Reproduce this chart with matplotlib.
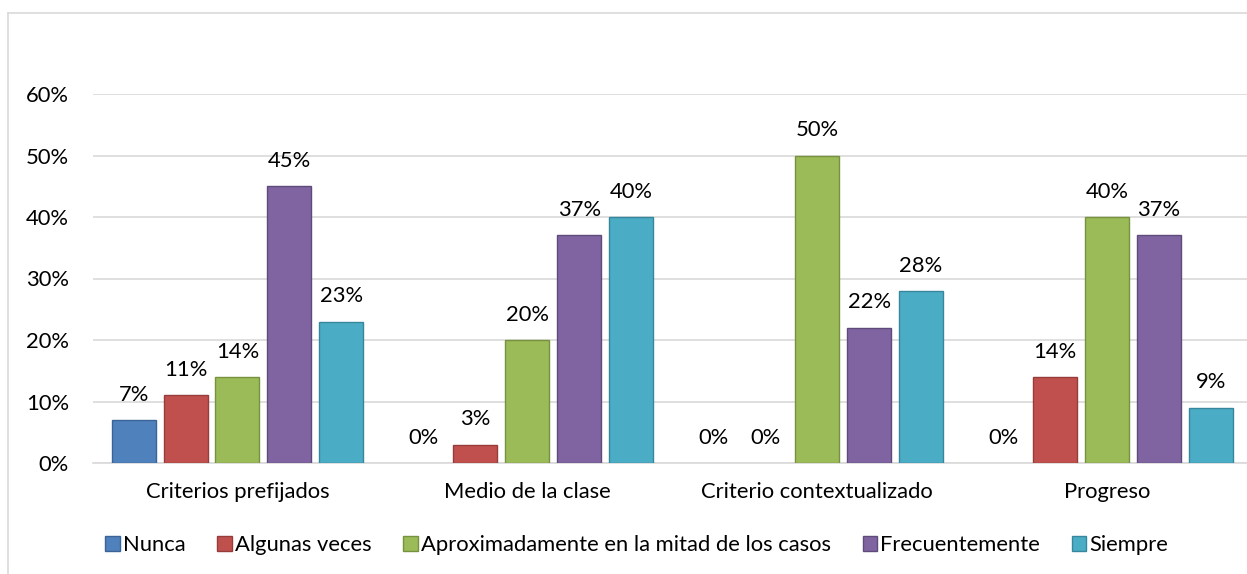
import matplotlib
matplotlib.use("Agg")
import matplotlib.pyplot as plt
import numpy as np
from matplotlib.lines import Line2D
from matplotlib.patches import Rectangle

categories = ["Criterios prefijados", "Medio de la clase", "Criterio contextualizado", "Progreso"]
series = ["Nunca", "Algunas veces", "Aproximadamente en la mitad de los casos", "Frecuentemente", "Siempre"]
nunca = [0.07, 0.00, 0.00, 0.00]
algunas = [0.11, 0.03, 0.00, 0.14]
mitad = [0.14, 0.20, 0.50, 0.40]
frecuente = [0.45, 0.37, 0.22, 0.37]
siempre = [0.23, 0.40, 0.28, 0.09]
values = [nunca, algunas, mitad, frecuente, siempre]
colors = ["#4F81BD", "#C0504D", "#9BBB59", "#8064A2", "#4BACC6"]
edges = ["#3A6397", "#963C3A", "#77923F", "#5F4B7A", "#36879C"]
yticks = [0, 0.1, 0.2, 0.3, 0.4, 0.5, 0.6]

plt.rcParams['font.family'] = ['Lato', 'DejaVu Sans']
FS = 15.8
W, H = 1247, 574
fig = plt.figure(figsize=(W/100, H/100), dpi=100)

# outer chart border (partially visible)
fig.add_artist(Line2D([8/W, 8/W], [0, 1-13/H], color="#d9d9d9", lw=1.2))
fig.add_artist(Line2D([8/W, 1], [1-13/H, 1-13/H], color="#d9d9d9", lw=1.2))

left, right = 92.5, 1252
bottom, top = 463, 94
ax = fig.add_axes([left/W, 1-bottom/H, (right-left)/W, (bottom-top)/H])
ax.set_xlim(-0.5, 3.5)
ax.set_ylim(0, 0.6)

x = np.arange(len(categories))
step = 0.179
width = 0.152
for i, (vals, c, ec, name) in enumerate(zip(values, colors, edges, series)):
    pos = x + (i - 2) * step
    lws = [1.0 if v > 0 else 0 for v in vals]
    bars = ax.bar(pos, vals, width=width, color=c, edgecolor=ec, linewidth=lws, label=name, zorder=3)
    for b, v in zip(bars, vals):
        ax.annotate(f"{round(v*100):d}%", (b.get_x() + b.get_width()/2, v),
                    xytext=(0, 11), textcoords="offset points", ha="center", va="bottom",
                    fontsize=FS, color="#000000")

ax.set_yticks(yticks)
ax.set_yticklabels([f"{int(round(t*100))}%" for t in yticks], fontsize=FS)
ax.set_xticks(x)
ax.set_xticklabels(categories, fontsize=FS)
ax.tick_params(axis='both', length=0)
ax.tick_params(axis='x', pad=14)
ax.tick_params(axis='y', pad=17)
ax.grid(axis='y', color="#d9d9d9", lw=1.2, zorder=0)
for s in ["top", "right", "left"]:
    ax.spines[s].set_visible(False)
ax.spines["bottom"].set_color("#d9d9d9")
ax.spines["bottom"].set_linewidth(1.2)

handles = [Rectangle((0, 0), 1, 1, facecolor=c, edgecolor=ec) for c, ec in zip(colors, edges)]
fig.legend(handles, series, loc="center", bbox_to_anchor=(637/W, 1-545/H), ncol=5,
           frameon=False, fontsize=FS, handlelength=0.65, handleheight=0.65,
           handletextpad=0.15, columnspacing=1.45)

fig.savefig("out.png", dpi=100)
